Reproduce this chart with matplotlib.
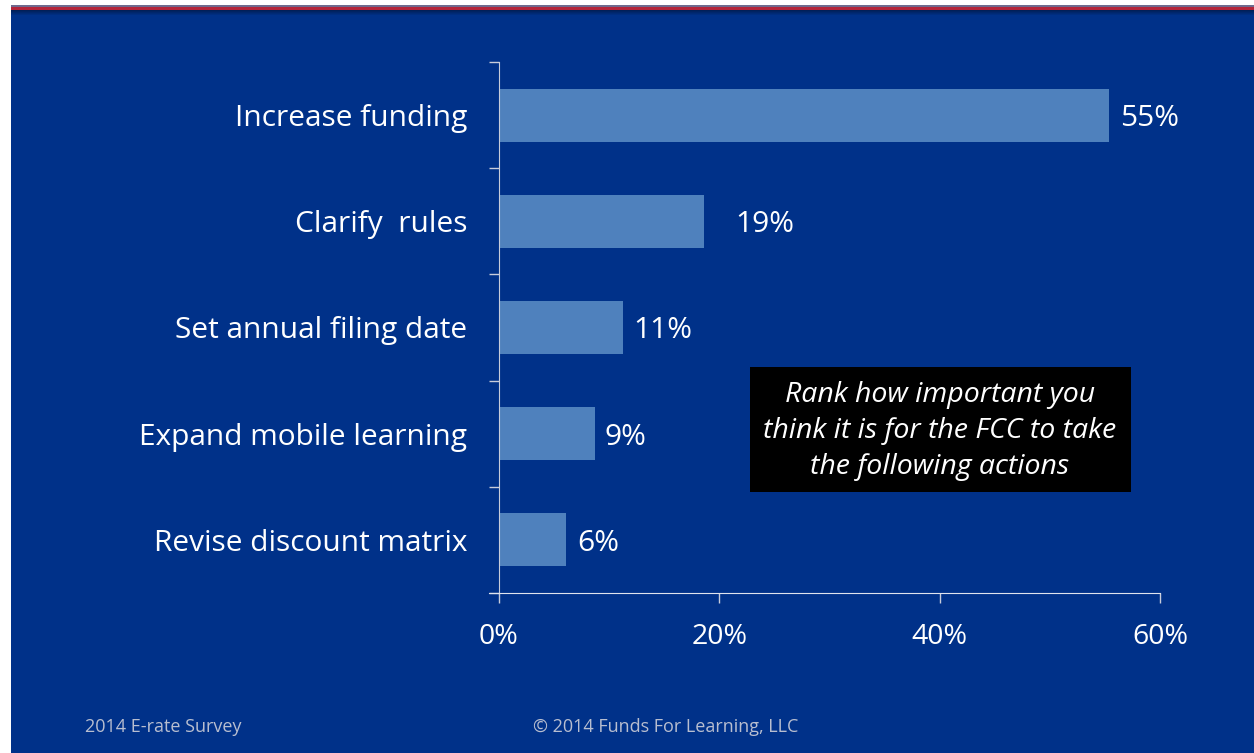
import matplotlib.pyplot as plt
from matplotlib.patches import Rectangle
import numpy as np

# survey results (percent of respondents)
actions = ['Increase funding', 'Clarify  rules', 'Set annual filing date',
           'Expand mobile learning', 'Revise discount matrix']
values = [55.4, 18.6, 11.3, 8.7, 6.1]
value_labels = ['55%', '19%', '11%', '9%', '6%']
x_ticks = [0, 20, 40, 60]
x_tick_labels = ['0%', '20%', '40%', '60%']

BG = '#003189'
BAR = '#4F81BD'
FONT = 'Open Sans'

fig = plt.figure(figsize=(12.54, 7.53), dpi=100)
fig.patch.set_facecolor('white')

# slide background + top stripe
W, H = 1254, 753
def px(x0, y0, w, h):
    return (x0 / W, 1 - (y0 + h) / H, w / W, h / H)

bx, by, bw, bh = px(11, 10, 1243, 743)
fig.patches.append(Rectangle((bx, by), bw, bh, transform=fig.transFigure,
                             facecolor=BG, edgecolor='none', zorder=0))
sx, sy, sw, sh = px(11, 5, 1243, 2)
fig.patches.append(Rectangle((sx, sy), sw, sh, transform=fig.transFigure,
                             facecolor='#6E6A8E', edgecolor='none', zorder=1))
sx, sy, sw, sh = px(11, 7, 1243, 3)
fig.patches.append(Rectangle((sx, sy), sw, sh, transform=fig.transFigure,
                             facecolor='#B3243A', edgecolor='none', zorder=1))
# soft shadow under the stripe
for i, a in enumerate(np.linspace(0.35, 0.0, 6)):
    sx, sy, sw, sh = px(11, 10 + i, 1243, 1)
    fig.patches.append(Rectangle((sx, sy), sw, sh, transform=fig.transFigure,
                                 facecolor='black', alpha=a, edgecolor='none', zorder=1))

ax = fig.add_axes([499 / W, 1 - 593 / H, 661 / W, (593 - 62) / H])
ax.set_facecolor('none')
ax.set_zorder(2)

y = np.arange(len(actions))
ax.barh(y, values, height=0.5, color=BAR, zorder=2)
ax.set_ylim(len(actions) - 0.5, -0.5)
ax.set_xlim(0, 60)

label_offsets = [11, 31, 10, 10, 11]
for yi, v, lab, off in zip(y, values, value_labels, label_offsets):
    ax.annotate(lab, (v, yi), xytext=(off * 0.72, -2.5), textcoords='offset points',
                va='center', ha='left', color='white', fontsize=21.5, family=FONT)

ax.set_yticks(np.arange(len(actions) + 1) - 0.5)
ax.set_yticklabels([])
ax.set_yticks(y, minor=True)
ax.set_yticklabels(actions, minor=True)
ax.tick_params(axis='y', which='minor', length=0, pad=23,
               labelsize=21.5, labelcolor='white')
ax.tick_params(axis='y', which='major', length=7, color='#C8CCDA', width=1)
for t in ax.get_yticklabels(minor=True):
    t.set_family(FONT)

ax.set_xticks(x_ticks)
ax.set_xticklabels(x_tick_labels)
ax.tick_params(axis='x', length=7, color='#C8CCDA', width=1, pad=14.5,
               labelsize=20.5, labelcolor='white')
for t in ax.get_xticklabels():
    t.set_family(FONT)

for s in ['top', 'right']:
    ax.spines[s].set_visible(False)
ax.spines['left'].set_color('#C8CCDA')
ax.spines['bottom'].set_color('#E0E4EE')
ax.spines['bottom'].set_bounds(-0.9, 60)

# question box
qx, qy, qw, qh = px(750, 367, 381, 125)
fig.patches.append(Rectangle((qx, qy), qw, qh, transform=fig.transFigure,
                             facecolor='black', edgecolor='none', zorder=3))
fig.text(940 / W, 1 - 431 / H,
         'Rank how important you\nthink it is for the FCC to take\nthe following actions',
         ha='center', va='center', color='white', fontsize=20.5, style='italic',
         family=FONT, linespacing=1.36, zorder=4)

# footer
fig.text(85 / W, 1 - 727 / H, '2014 E-rate Survey', ha='left', va='center',
         color='#B8BED0', fontsize=13, family=FONT)
fig.text(533 / W, 1 - 727 / H, '\u00a9 2014 Funds For Learning, LLC', ha='left',
         va='center', color='#B8BED0', fontsize=13, family=FONT)

fig.savefig('out.png', dpi=100, facecolor=fig.get_facecolor())
